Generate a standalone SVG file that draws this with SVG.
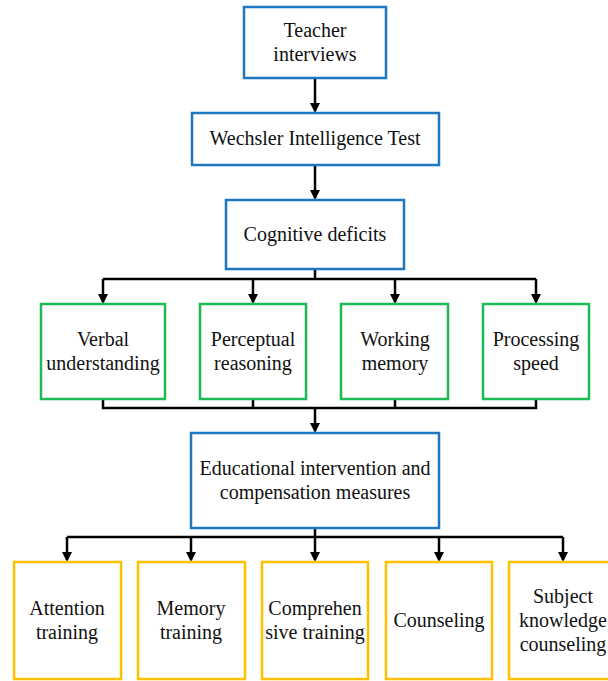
<svg xmlns="http://www.w3.org/2000/svg" width="608" height="681" viewBox="0 0 608 681">
<style>
.b{fill:#fff;stroke:#1F77C0;stroke-width:2.5}
.g{fill:#fff;stroke:#1DB954;stroke-width:2.5}
.y{fill:#fff;stroke:#FFC000;stroke-width:2.5}
.t text{font-size:20px;fill:#111;text-anchor:middle}
.c{fill:none;stroke:#000;stroke-width:2.5}
</style>
<defs>
<marker id="a" markerWidth="10" markerHeight="10" refX="8" refY="5" orient="auto" markerUnits="userSpaceOnUse">
<path d="M0,0 L10,5 L0,10 Z" fill="#000"/>
</marker>
</defs>
<rect width="608" height="681" fill="#fff"/>
<g id="connectors">
<path class="c" d="M315,78 V111" marker-end="url(#a)"/>
<path class="c" d="M315,165 V198" marker-end="url(#a)"/>
<path class="c" d="M315,269 V279"/>
<path class="c" d="M103,279 H536"/>
<path class="c" d="M103,279 V302" marker-end="url(#a)"/>
<path class="c" d="M253,279 V302" marker-end="url(#a)"/>
<path class="c" d="M395,279 V302" marker-end="url(#a)"/>
<path class="c" d="M536,279 V302" marker-end="url(#a)"/>
<path class="c" d="M103,399 V408 H536 V399"/>
<path class="c" d="M253,399 V408"/>
<path class="c" d="M395,399 V408"/>
<path class="c" d="M315,408 V431" marker-end="url(#a)"/>
<path class="c" d="M315,528 V537"/>
<path class="c" d="M67,537 H563"/>
<path class="c" d="M67,537 V560" marker-end="url(#a)"/>
<path class="c" d="M191,537 V560" marker-end="url(#a)"/>
<path class="c" d="M315,537 V560" marker-end="url(#a)"/>
<path class="c" d="M439,537 V560" marker-end="url(#a)"/>
<path class="c" d="M563,537 V560" marker-end="url(#a)"/>
</g>
<g class="t" font-family="'Liberation Serif', 'Times New Roman', Tinos, serif">
<g id="teacher"><rect class="b" x="244" y="7" width="142" height="71"/><text x="315" y="37">Teacher</text><text x="315" y="61">interviews</text></g>
<g id="wechsler"><rect class="b" x="192" y="113" width="247" height="52"/><text x="315" y="145">Wechsler Intelligence Test</text></g>
<g id="cognitive"><rect class="b" x="226" y="200" width="178" height="69"/><text x="315" y="241">Cognitive deficits</text></g>
<g id="verbal"><rect class="g" x="41" y="304" width="124" height="95"/><text x="103" y="346">Verbal</text><text x="103" y="370">understanding</text></g>
<g id="perceptual"><rect class="g" x="200" y="304" width="106" height="95"/><text x="253" y="346">Perceptual</text><text x="253" y="370">reasoning</text></g>
<g id="working"><rect class="g" x="341" y="304" width="107" height="95"/><text x="395" y="346">Working</text><text x="395" y="370">memory</text></g>
<g id="processing"><rect class="g" x="483" y="304" width="106" height="95"/><text x="536" y="346">Processing</text><text x="536" y="370">speed</text></g>
<g id="educational"><rect class="b" x="191" y="433" width="248" height="95"/><text x="315" y="475">Educational intervention and</text><text x="315" y="499">compensation measures</text></g>
<g id="attention"><rect class="y" x="14" y="562" width="107" height="117"/><text x="67" y="615">Attention</text><text x="67" y="639">training</text></g>
<g id="memory"><rect class="y" x="138" y="562" width="107" height="117"/><text x="191" y="615">Memory</text><text x="191" y="639">training</text></g>
<g id="comprehensive"><rect class="y" x="262" y="562" width="106" height="117"/><text x="315" y="615">Comprehen</text><text x="315" y="639">sive training</text></g>
<g id="counseling"><rect class="y" x="386" y="562" width="106" height="117"/><text x="439" y="627">Counseling</text></g>
<g id="subject"><rect class="y" x="509" y="562" width="108" height="117"/><text x="563" y="603">Subject</text><text x="563" y="627">knowledge</text><text x="563" y="651">counseling</text></g>
</g>
</svg>
